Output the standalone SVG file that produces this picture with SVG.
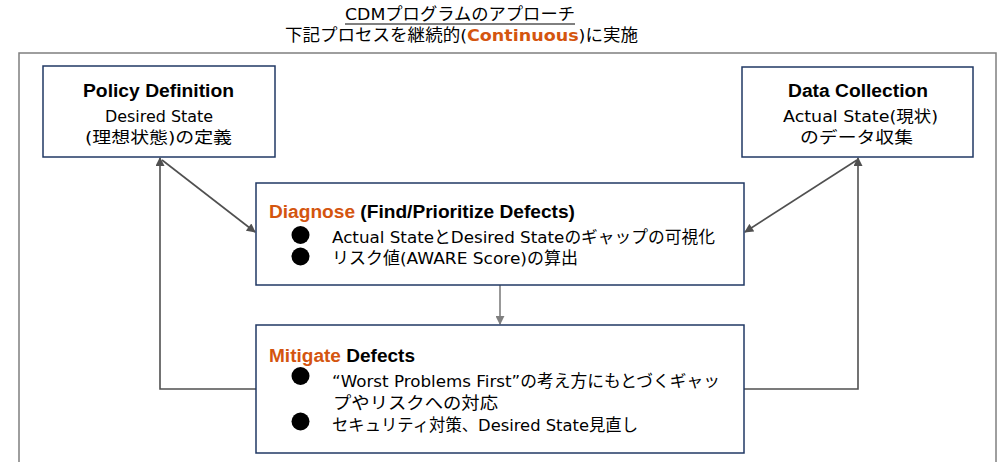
<svg xmlns="http://www.w3.org/2000/svg" width="1000" height="462" viewBox="0 0 1000 462">
<defs>
<style>
.t{font-family:"DejaVu Sans","Noto Sans CJK JP",sans-serif;fill:#000}
.b{font-family:"Liberation Sans","Noto Sans CJK JP",sans-serif;font-weight:bold;fill:#000}
.o{fill:#D4550F}
.box{fill:#fff;stroke:#203864;stroke-width:1.5}
.c{fill:none;stroke:#505050;stroke-width:1.6}
</style>
<marker id="ah" viewBox="0 0 10 10" refX="9" refY="5" markerWidth="10" markerHeight="9" markerUnits="userSpaceOnUse" orient="auto"><path d="M0,0 L10,5 L0,10 z" fill="#505050"/></marker>
<marker id="ah2" viewBox="0 0 10 10" refX="9" refY="5" markerWidth="9" markerHeight="9" markerUnits="userSpaceOnUse" orient="auto"><path d="M0,0 L10,5 L0,10 z" fill="#7F7F7F"/></marker>
</defs>
<rect width="1000" height="462" fill="#fff"/>
<g id="title">
<text class="t" x="345" y="20" font-size="16.5" textLength="230" lengthAdjust="spacingAndGlyphs">CDMプログラムのアプローチ</text>
<line x1="345" y1="24" x2="575" y2="24" stroke="#000" stroke-width="1"/>
<text class="t" x="285" y="41" font-size="16.5" textLength="353" lengthAdjust="spacingAndGlyphs">下記プロセスを継続的(<tspan class="o" font-weight="bold">Continuous</tspan>)に実施</text>
</g>
<rect id="frame" x="19" y="53" width="977" height="420" fill="none" stroke="#7F7F7F" stroke-width="1.5"/>
<g id="connectors">
<line class="c" x1="162" y1="160" x2="255" y2="232" marker-end="url(#ah)"/>
<line class="c" x1="857" y1="160" x2="745" y2="232" marker-end="url(#ah)"/>
<polyline class="c" points="256,389 160,389 160,158" marker-end="url(#ah)"/>
<polyline class="c" points="744,389 858,389 858,158" marker-end="url(#ah)"/>
<line x1="500" y1="285" x2="500" y2="324" stroke="#7F7F7F" stroke-width="1.6" marker-end="url(#ah2)"/>
</g>
<g id="policy">
<rect class="box" x="43" y="66" width="232" height="91"/>
<text class="b" x="83" y="97" font-size="18" textLength="151" lengthAdjust="spacingAndGlyphs">Policy Definition</text>
<text class="t" x="105" y="121.5" font-size="16" textLength="108" lengthAdjust="spacingAndGlyphs">Desired State</text>
<text class="t" x="85" y="143" font-size="16" textLength="147" lengthAdjust="spacingAndGlyphs">(理想状態)の定義</text>
</g>
<g id="data">
<rect class="box" x="742" y="67" width="231" height="90"/>
<text class="b" x="788" y="97" font-size="18" textLength="140" lengthAdjust="spacingAndGlyphs">Data Collection</text>
<text class="t" x="783" y="121.5" font-size="16" textLength="155" lengthAdjust="spacingAndGlyphs">Actual State(現状)</text>
<text class="t" x="800" y="143" font-size="16" textLength="113" lengthAdjust="spacingAndGlyphs">のデータ収集</text>
</g>
<g id="diagnose">
<rect class="box" x="256" y="183" width="488" height="102"/>
<text class="b" x="269" y="218" font-size="18" textLength="306" lengthAdjust="spacingAndGlyphs"><tspan class="o">Diagnose</tspan> (Find/Prioritize Defects)</text>
<circle cx="300.5" cy="235" r="9"/>
<circle cx="300.5" cy="256.5" r="9"/>
<text class="t" x="332" y="242.5" font-size="16.5" textLength="383" lengthAdjust="spacingAndGlyphs">Actual StateとDesired Stateのギャップの可視化</text>
<text class="t" x="332" y="264" font-size="16.5" textLength="246" lengthAdjust="spacingAndGlyphs">リスク値(AWARE Score)の算出</text>
</g>
<g id="mitigate">
<rect class="box" x="256" y="325" width="488" height="128"/>
<text class="b" x="269" y="362" font-size="18" textLength="146" lengthAdjust="spacingAndGlyphs"><tspan class="o">Mitigate</tspan> Defects</text>
<circle cx="300.5" cy="376" r="9"/>
<circle cx="300.5" cy="421.5" r="9"/>
<text class="t" x="332" y="386.5" font-size="16.5" textLength="388" lengthAdjust="spacingAndGlyphs">“Worst Problems First”の考え方にもとづくギャッ</text>
<text class="t" x="333" y="408.5" font-size="16.5" textLength="165" lengthAdjust="spacingAndGlyphs">プやリスクへの対応</text>
<text class="t" x="332" y="431" font-size="16.5" textLength="306" lengthAdjust="spacingAndGlyphs">セキュリティ対策、Desired State見直し</text>
</g>
</svg>
